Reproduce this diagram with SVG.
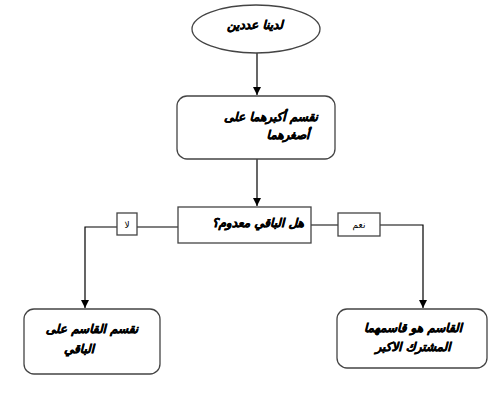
<svg xmlns="http://www.w3.org/2000/svg" width="493" height="405" viewBox="0 0 493 405">
<style>
.n{fill:#fff;stroke:#444;stroke-width:1.3}
.t{font-family:"DejaVu Sans",sans-serif;font-size:12px;font-weight:bold;font-style:italic;fill:#000;stroke:#000;stroke-width:0.45;text-anchor:middle}
.s{font-family:"DejaVu Sans",sans-serif;font-size:9px;fill:#000;text-anchor:middle}
.c{fill:none;stroke:#000;stroke-width:1.2}
</style>
<defs>
<marker id="a" markerWidth="10" markerHeight="10" refX="8" refY="4" orient="auto" markerUnits="userSpaceOnUse">
<path d="M0,0 L8,4 L0,8 Z" fill="#000"/>
</marker>
</defs>
<rect width="493" height="405" fill="#fff"/>
<g id="connectors">
<path class="c" d="M257,53 V95" marker-end="url(#a)"/>
<path class="c" d="M257,159 V206" marker-end="url(#a)"/>
<path class="c" d="M178,227 H137 M117,227 H85 V308" marker-end="url(#a)"/>
<path class="c" d="M311,225 H338 M380,225 H423 V308" marker-end="url(#a)"/>
</g>
<g id="start">
<ellipse class="n" cx="256" cy="29" rx="64" ry="24"/>
<text class="t" x="255" y="29" direction="rtl">لدينا عددين</text>
</g>
<g id="divide">
<rect class="n" x="177" y="96" width="158" height="63" rx="10"/>
<text class="t" x="271" y="121" direction="rtl">نقسم أكبرهما على</text>
<text class="t" x="288" y="139" direction="rtl">أصغرهما</text>
</g>
<g id="decision">
<rect class="n" x="178" y="207" width="133" height="36"/>
<text class="t" x="258" y="227" direction="rtl">هل الباقي معدوم؟</text>
</g>
<g id="label-no">
<rect class="n" x="117" y="213" width="20" height="22"/>
<text class="s" x="127" y="228" direction="rtl">لا</text>
</g>
<g id="label-yes">
<rect class="n" x="338" y="213" width="42" height="23"/>
<text class="s" x="359" y="228" direction="rtl">نعم</text>
</g>
<g id="divide-remainder">
<rect class="n" x="24" y="309" width="136" height="65" rx="10"/>
<text class="t" x="92" y="333" direction="rtl">نقسم القاسم على</text>
<text class="t" x="79" y="353" direction="rtl">الباقي</text>
</g>
<g id="gcd">
<rect class="n" x="337" y="309" width="150" height="59" rx="10"/>
<text class="t" x="413" y="332" direction="rtl">القاسم هو قاسمهما</text>
<text class="t" x="413" y="351" direction="rtl">المشترك الاكبر</text>
</g>
</svg>
